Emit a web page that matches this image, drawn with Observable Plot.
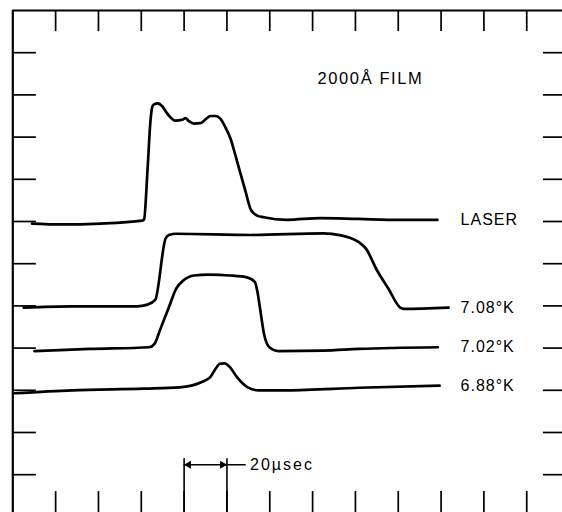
<!DOCTYPE html>
<html>
<head>
<meta charset="utf-8">
<script src="https://cdn.jsdelivr.net/npm/d3@7"></script>
<script src="https://cdn.jsdelivr.net/npm/@observablehq/plot@0.6"></script>
<style>
  html, body { margin: 0; padding: 0; background: #fff; }
  #chart svg { display: block; }
</style>
</head>
<body>
<div id="chart"></div>
<script>
// time in µs (1 grid division = 20 µs), signal in grid divisions
const xTicks = [20, 40, 60, 80, 100, 120, 140, 160, 180, 200, 220, 240];
const yTicks = [1, 2, 3, 4, 5, 6, 7, 8, 9, 10, 11];
const scaleBar = [80, 100];

const laser = [
  [9.0, 6.95], [22.3, 6.93], [41.0, 6.95], [60.4, 7.02], [61.3, 7.05], [62.9, 8.21],
  [64.3, 9.39], [65.1, 9.71], [65.8, 9.77], [67.7, 9.80], [69.8, 9.73], [71.8, 9.58],
  [73.6, 9.47], [76.0, 9.39], [79.1, 9.41], [80.6, 9.45], [82.2, 9.38], [84.5, 9.32],
  [87.6, 9.33], [90.0, 9.42], [92.3, 9.50], [94.7, 9.50], [97.0, 9.43], [99.3, 9.23],
  [101.7, 8.96], [104.0, 8.56], [106.3, 8.14], [108.7, 7.71], [111.0, 7.30],
  [112.4, 7.20], [114.1, 7.14], [117.2, 7.10], [128.1, 7.04], [143.7, 7.08],
  [161.4, 7.06], [181.0, 7.04], [198.3, 7.04]
];
const k708 = [
  [5.1, 4.96], [27.7, 4.99], [57.9, 4.99], [62.9, 5.03], [66.5, 5.14], [71.3, 6.59],
  [72.9, 6.68], [76.3, 6.71], [111.4, 6.68], [144.9, 6.72], [153.3, 6.67],
  [157.7, 6.61], [161.6, 6.51], [165.0, 6.35], [170.0, 5.85], [175.5, 5.40],
  [180.9, 4.96], [182.5, 4.93], [203.5, 4.96]
];
const k702 = [
  [10.1, 3.93], [36.1, 3.98], [63.7, 4.02], [66.2, 4.10], [68.7, 4.42], [72.9, 4.97],
  [76.3, 5.41], [79.6, 5.60], [84.6, 5.72], [91.3, 5.74], [101.4, 5.72], [109.7, 5.67],
  [113.1, 5.56], [114.4, 5.29], [115.6, 4.89], [117.3, 4.34], [119.8, 4.02],
  [124.0, 3.93], [144.9, 3.94], [161.6, 3.98], [198.5, 4.02]
];
const k688 = [
  [0.9, 2.93], [27.7, 3.00], [61.2, 3.04], [77.9, 3.07], [88.0, 3.19], [92.2, 3.31],
  [94.7, 3.51], [96.7, 3.63], [98.9, 3.64], [101.4, 3.55], [104.7, 3.31], [109.7, 3.07],
  [114.7, 3.00], [128.1, 3.00], [161.6, 3.06], [199.3, 3.11]
];
const seriesNames = ["LASER", "7.08°K", "7.02°K", "6.88°K"];
const seriesData = [laser, k708, k702, k688];

const traces = seriesData.flatMap((d, i) => d.map(([t, v]) => ({series: seriesNames[i], t, v})));
const labels = seriesData.map((d, i) => ({series: seriesNames[i], v: d[d.length - 1][1]}));

const font = "'Liberation Sans', Arial, sans-serif";

const chart = Plot.plot({
  width: 562,
  height: 512,
  marginLeft: 12.3,
  marginRight: 0,
  marginTop: 10,
  marginBottom: 0,
  style: {fontFamily: font, background: "#fff", color: "#000"},
  x: {domain: [0, 256.7], axis: null},
  y: {domain: [0.104, 12], axis: null},
  marks: [
    // frame
    Plot.ruleX([0], {y1: 0, y2: 12, stroke: "#000", strokeWidth: 2.2}),
    Plot.ruleY([12], {x1: 0, x2: 262, stroke: "#000", strokeWidth: 2.2}),
    Plot.ruleX(xTicks, {y1: 12, y2: 11.5, stroke: "#000", strokeWidth: 1.7}),
    Plot.ruleX(xTicks, {y1: 0, y2: 0.6, stroke: "#000", strokeWidth: 1.7}),
    Plot.ruleY(yTicks, {x1: 0, x2: 11, stroke: "#000", strokeWidth: 1.7}),
    Plot.ruleY(yTicks, {x1: 247.8, x2: 262, stroke: "#000", strokeWidth: 1.7}),
    // 20 µsec scale bar
    Plot.ruleX(scaleBar, {y1: 0, y2: 1.38, stroke: "#000", strokeWidth: 1.6}),
    Plot.ruleY([1.235], {x1: 80, x2: 109, stroke: "#000", strokeWidth: 1.6}),
    Plot.dot([80], {x: d => d, y: 1.235, symbol: "triangle", r: 3, rotate: -90, dx: 4.5, fill: "#000", stroke: "none"}),
    Plot.dot([100], {x: d => d, y: 1.235, symbol: "triangle", r: 3, rotate: 90, dx: -4.5, fill: "#000", stroke: "none"}),
    Plot.text(["20µsec"], {x: 110.8, y: 1.116, text: d => d, textAnchor: "start", lineAnchor: "bottom", fontSize: 16, fill: "#000"}),
    // traces
    Plot.line(traces, {x: "t", y: "v", z: "series", curve: "monotone-x", stroke: "#000", strokeWidth: 2.7, strokeLinejoin: "round", strokeLinecap: "round"}),
    Plot.text(labels, {x: 209.1, y: "v", text: "series", textAnchor: "start", lineAnchor: "middle", fontSize: 16, fill: "#000"}),
    Plot.text(["2000Å FILM"], {x: 142.3, y: 10.25, text: d => d, textAnchor: "start", lineAnchor: "bottom", fontSize: 16.5, fill: "#000"})
  ]
});

const svg = d3.select(chart);
svg.selectAll("text").attr("letter-spacing", "1px");
svg.selectAll("text").filter(function() { return this.textContent.includes("µsec"); }).attr("letter-spacing", "2px");
svg.selectAll("text").filter(function() { return this.textContent.includes("FILM"); }).attr("letter-spacing", "1.6px");
document.getElementById("chart").appendChild(chart);
</script>
</body>
</html>
